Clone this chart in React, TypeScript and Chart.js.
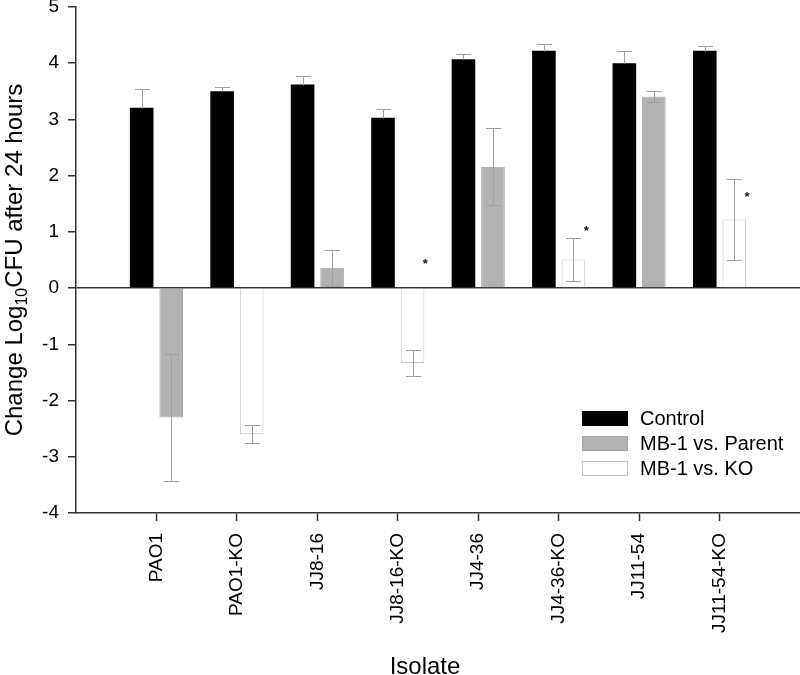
import React, { useEffect, useRef } from "react";
import { Chart, registerables } from "chart.js";

Chart.register(...registerables);

const categories = ["PAO1", "PAO1-KO", "JJ8-16", "JJ8-16-KO", "JJ4-36", "JJ4-36-KO", "JJ11-54", "JJ11-54-KO"];
const controlValues = [3.21, 3.5, 3.62, 3.03, 4.07, 4.22, 4.0, 4.22];
const controlErrors = [0.34, 0.08, 0.15, 0.16, 0.09, 0.13, 0.22, 0.08];
const parentValues = [-2.3, null, 0.36, null, 2.16, null, 3.41, null];
const parentErrors = [1.13, null, 0.32, null, 0.69, null, 0.1, null];
const koValues = [null, -2.6, null, -1.33, null, 0.51, null, 1.22];
const koErrors = [null, 0.16, null, 0.23, null, 0.38, null, 0.72];
const starLevels = [null, null, null, 0.48, null, 1.06, null, 1.67];
const seriesNames = ["Control", "MB-1 vs. Parent", "MB-1 vs. KO"];
const yMin = -4;
const yMax = 5;

const FONT = "'Liberation Sans', Arial, sans-serif";

const pad = (arr: (number | null)[]) => [null, ...arr, null];

const errorSets = [
  { vals: controlValues, errs: controlErrors, upOnly: true },
  { vals: parentValues, errs: parentErrors, upOnly: false },
  { vals: koValues, errs: koErrors, upOnly: false },
];

const extrasPlugin = {
  id: "extras",
  afterDatasetsDraw(chart: any) {
    const { ctx } = chart;
    const ys = chart.scales.y;
    ctx.save();
    ctx.strokeStyle = "#a0a0a0";
    ctx.lineWidth = 1;
    errorSets.forEach((s, di) => {
      const meta = chart.getDatasetMeta(di);
      s.vals.forEach((v, i) => {
        const e = s.errs[i];
        if (v == null || e == null) return;
        const el = meta.data[i + 1];
        if (!el) return;
        const x = Math.round(el.x) + 0.5;
        const yTop = Math.round(ys.getPixelForValue(v + e)) + 0.5;
        const yBot = Math.round(ys.getPixelForValue(s.upOnly ? v : v - e)) + 0.5;
        ctx.beginPath();
        ctx.moveTo(x, yTop);
        ctx.lineTo(x, yBot);
        ctx.moveTo(x - 7.5, yTop);
        ctx.lineTo(x + 7.5, yTop);
        if (!s.upOnly) {
          ctx.moveTo(x - 7.5, yBot);
          ctx.lineTo(x + 7.5, yBot);
        }
        ctx.stroke();
      });
    });
    // significance stars
    const koMeta = chart.getDatasetMeta(2);
    ctx.fillStyle = "#111";
    ctx.font = `bold 13px ${FONT}`;
    ctx.textAlign = "center";
    ctx.textBaseline = "middle";
    starLevels.forEach((lv, i) => {
      if (lv == null) return;
      const el = koMeta.data[i + 1];
      if (!el) return;
      const x = el.x + el.width / 2 + 1;
      ctx.fillText("*", x, ys.getPixelForValue(lv) + 3);
    });
    ctx.restore();
  },
  afterDraw(chart: any) {
    const { ctx, chartArea } = chart;
    const { left, right, top, bottom } = chartArea;
    ctx.save();
    // legend
    const bx = right - 218;
    const by = bottom - 102;
    const styles = chart.data.datasets;
    seriesNames.forEach((name, i) => {
      const y = by + i * 25;
      const ds = styles[i];
      ctx.fillStyle = ds.backgroundColor;
      ctx.fillRect(bx, y, 46, 15);
      if (i > 0) {
        ctx.strokeStyle = ds.borderColor;
        ctx.lineWidth = 1;
        ctx.strokeRect(bx + 0.5, y + 0.5, 45, 14);
      }
      ctx.fillStyle = "#000";
      ctx.font = `20px ${FONT}`;
      ctx.textAlign = "left";
      ctx.textBaseline = "middle";
      ctx.fillText(name, bx + 58, y + 8);
    });
    // x title
    ctx.fillStyle = "#000";
    ctx.font = `24px ${FONT}`;
    ctx.textAlign = "center";
    ctx.textBaseline = "alphabetic";
    ctx.fillText("Isolate", (left + right) / 2 - 13, 674);
    // y title with subscript
    ctx.translate(22, (top + bottom) / 2);
    ctx.rotate(-Math.PI / 2);
    const big = `24px ${FONT}`;
    const small = `16px ${FONT}`;
    const p1 = "Change Log";
    const p2 = "10";
    const p3 = "CFU after 24 hours";
    ctx.font = big;
    const w1 = ctx.measureText(p1).width;
    const w3 = ctx.measureText(p3).width;
    ctx.font = small;
    const w2 = ctx.measureText(p2).width;
    let x0 = -(w1 + w2 + w3) / 2;
    ctx.textAlign = "left";
    ctx.font = big;
    ctx.fillText(p1, x0, 0);
    x0 += w1;
    ctx.font = small;
    ctx.fillText(p2, x0, 5);
    x0 += w2;
    ctx.font = big;
    ctx.fillText(p3, x0, 0);
    ctx.restore();
  },
};

export default function App() {
  const ref = useRef<HTMLCanvasElement | null>(null);
  useEffect(() => {
    if (!ref.current) return;
    const chart = new Chart(ref.current, {
      type: "bar",
      data: {
        labels: ["", ...categories, ""],
        datasets: [
          {
            label: seriesNames[0],
            data: pad(controlValues),
            backgroundColor: "#000000",
            borderColor: "#000000",
            borderWidth: 0,
            stack: "control",
          },
          {
            label: seriesNames[1],
            data: pad(parentValues),
            backgroundColor: "#b2b2b2",
            borderColor: "#a6a6a6",
            borderWidth: 1,
            stack: "mb1",
          },
          {
            label: seriesNames[2],
            data: pad(koValues),
            backgroundColor: "#ffffff",
            borderColor: "#c4c4c4",
            borderWidth: 1,
            stack: "mb1",
          },
        ] as any,
      },
      options: {
        responsive: false,
        animation: false,
        events: [],
        layout: { padding: { top: 7, left: 0, right: 0, bottom: 0 } },
        datasets: { bar: { categoryPercentage: 0.734, barPercentage: 0.8 } } as any,
        plugins: { legend: { display: false }, tooltip: { enabled: false } },
        scales: {
          x: {
            type: "category",
            stacked: true,
            offset: false,
            grid: {
              drawOnChartArea: false,
              offset: false,
              tickLength: 8,
              tickColor: (c: any) => (c.index === 0 || c.index === categories.length + 1 ? "rgba(0,0,0,0)" : "#333"),
              tickWidth: 1.5,
            } as any,
            border: { color: "#333", width: 1.5 },
            ticks: {
              autoSkip: false,
              minRotation: 90,
              maxRotation: 90,
              padding: 12,
              color: "#000",
              font: { family: FONT, size: 19 },
            },
            afterFit: (s: any) => {
              s.height = 162;
              s.paddingLeft = 0;
              s.paddingRight = 0;
            },
          } as any,
          y: {
            stacked: true,
            min: yMin,
            max: yMax,
            grid: {
              drawOnChartArea: true,
              color: (c: any) => (c.tick && c.tick.value === 0 ? "#333" : "rgba(0,0,0,0)"),
              lineWidth: 1.5,
              tickColor: "#333",
              tickWidth: 1.5,
              tickLength: 8,
            } as any,
            border: { color: "#333", width: 1.5 },
            ticks: {
              stepSize: 1,
              padding: 9,
              color: "#000",
              font: { family: FONT, size: 19 },
            },
            afterFit: (s: any) => {
              s.width = 76;
              s.paddingTop = 0;
              s.paddingBottom = 0;
            },
          } as any,
        },
      },
      plugins: [extrasPlugin],
    });
    return () => chart.destroy();
  }, []);
  return (
    <div style={{ position: "absolute", left: 0, top: 0, width: 800, height: 675, background: "#fff" }}>
      <canvas ref={ref} width={800} height={675} style={{ display: "block" }} />
    </div>
  );
}
